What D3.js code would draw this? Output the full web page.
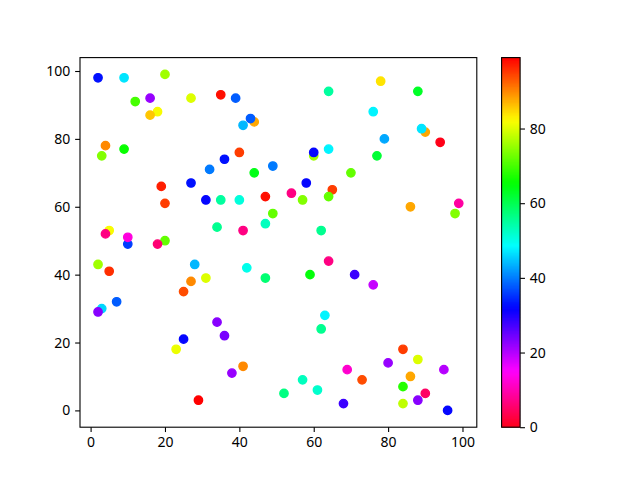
<!DOCTYPE html>
<html><head><meta charset="utf-8">
<script src="https://cdn.jsdelivr.net/npm/d3@7"></script>
<style>
body{margin:0;background:#fff}
svg{display:block}
text{font-family:"Noto Sans",sans-serif;font-size:14px;fill:#000}
</style>
</head><body>
<svg id="c" width="640" height="480"></svg>
<script>
// ---- data ----
const xVals = [2,9,20,12,16,27,18,16,4,3,9,32,27,19,35,39,44,43,41,64,40,36,44,49,60,60,64,58,78,88,76,90,89,94,79,77,70,20,31,5,4,10,10,20,18,2,5,28,31,27,25,65,54,57,64,47,35,40,49,47,34,41,62,64,42,47,59,86,99,98,71,76,3,2,7,25,23,29,34,36,38,41,63,62,57,52,61,84,88,69,73,80,95,86,84,90,68,88,84,96];
const yVals = [98,98,99,91,92,92,88,87,78,75,77,71,67,66,93,92,85,86,84,94,76,74,70,72,75,76,77,67,97,94,88,82,83,79,80,75,70,61,62,53,52,49,51,50,49,43,41,43,39,38,35,65,64,62,63,63,62,62,58,55,54,53,53,44,42,39,40,60,61,58,40,37,30,29,32,21,18,3,26,22,11,13,28,24,9,5,6,18,15,12,9,14,12,10,7,5,2,3,2,0];
const cVals = [33,47,76,70,22,80,82,86,90,74,66,40,33,97,98,38,88,38,44,55,95,33,64,40,76,32,48,32,84,63,48,88,47,0,43,62,72,95,32,82,7,36,13,72,6,76,96,44,80,90,94,95,7,74,72,98,55,51,72,53,56,7,56,7,50,58,65,88,9,74,28,19,46,23,38,32,81,99,23,24,22,90,48,56,53,57,52,95,80,12,94,22,20,88,68,5,28,23,78,32];
const xTicks = [0,20,40,60,80,100];
const yTicks = [0,20,40,60,80,100];
const cTicks = [0,20,40,60,80];

// ---- matplotlib "hsv" colormap segments (reversed use) ----
const hsvR = [[0,1,1],[0.158730,1,1],[0.174603,0.96875,0.96875],[0.333333,0.03125,0.03125],[0.349206,0,0],[0.666667,0,0],[0.682540,0.03125,0.03125],[0.841270,0.96875,0.96875],[0.857143,1,1],[1,1,1]];
const hsvG = [[0,0,0],[0.158730,0.9375,0.9375],[0.174603,1,1],[0.507937,1,1],[0.666667,0.0625,0.0625],[0.682540,0,0],[1,0,0]];
const hsvB = [[0,0,0],[0.333333,0,0],[0.349206,0.0625,0.0625],[0.507937,1,1],[0.841270,1,1],[0.857143,0.9375,0.9375],[1,0.09375,0.09375]];
function seg(a,t){
  for(let i=0;i<a.length-1;i++){
    if(t>=a[i][0] && t<=a[i+1][0]){
      const f=(t-a[i][0])/(a[i+1][0]-a[i][0]||1);
      return a[i][2]+f*(a[i+1][1]-a[i][2]);
    }
  }
  return a[a.length-1][1];
}
function hsv(t){
  t=Math.max(0,Math.min(1,t));
  return d3.rgb(255*seg(hsvR,t),255*seg(hsvG,t),255*seg(hsvB,t)).formatHex();
}
const cMin=d3.min(cVals), cMax=d3.max(cVals);
const cNorm=d3.scaleLinear().domain([cMin,cMax]).range([0,1]).clamp(true);
const colorOf = v => hsv(1-cNorm(v));   // hsv_r

// ---- layout ----
const svg=d3.select("#c");
const L=80, R=476.8, T=57.6, B=427.2;
function padded(vals){const mn=d3.min(vals),mx=d3.max(vals),p=(mx-mn)*0.05;return [mn-p,mx+p];}
const x=d3.scaleLinear().domain(padded(xVals)).range([L,R]);
const y=d3.scaleLinear().domain(padded(yVals)).range([B,T]);
const tickLen=4.86, tickPad=4.86;

// points
const pts=xVals.map((v,i)=>({x:v,y:yVals[i],c:cVals[i]}));
svg.append("g").selectAll("circle").data(pts).join("circle")
  .attr("cx",d=>x(d.x)).attr("cy",d=>y(d.y)).attr("r",4.17)
  .attr("fill",d=>colorOf(d.c)).attr("stroke",d=>colorOf(d.c)).attr("stroke-width",1.39);

// axes
const gx=svg.append("g").attr("transform",`translate(0,${B})`)
  .call(d3.axisBottom(x).tickValues(xTicks).tickFormat(d3.format("d")).tickSize(tickLen).tickPadding(tickPad));
const gy=svg.append("g").attr("transform",`translate(${L},0)`)
  .call(d3.axisLeft(y).tickValues(yTicks).tickFormat(d3.format("d")).tickSize(tickLen).tickPadding(tickPad));
[gx,gy].forEach(g=>{
  g.select(".domain").remove();
  g.selectAll(".tick line").attr("stroke","#000").attr("stroke-width",1.1);
  g.selectAll(".tick text").attr("font-family","Noto Sans, sans-serif").attr("font-size",14).attr("fill","#000");
});
svg.append("rect").attr("x",L).attr("y",T).attr("width",R-L).attr("height",B-T)
  .attr("fill","none").attr("stroke","#000").attr("stroke-width",1.1);

// colorbar
const CL=501.6, CW=18.5;
const cy=d3.scaleLinear().domain([cMin,cMax]).range([B,T]);
const nSteps=256;
const steps=d3.range(nSteps).map(i=>cMin+(cMax-cMin)*i/nSteps);
const stepH=(B-T)/nSteps;
svg.append("g").selectAll("rect").data(steps).join("rect")
  .attr("x",CL).attr("width",CW)
  .attr("y",d=>cy(d)-stepH-0.5).attr("height",stepH+1)
  .attr("fill",d=>colorOf(d+(cMax-cMin)/nSteps/2));
svg.append("rect").attr("x",CL).attr("y",T).attr("width",CW).attr("height",B-T)
  .attr("fill","none").attr("stroke","#000").attr("stroke-width",1.1);
const gc=svg.append("g").attr("transform",`translate(${CL+CW},0)`)
  .call(d3.axisRight(cy).tickValues(cTicks).tickFormat(d3.format("d")).tickSize(tickLen).tickPadding(tickPad));
gc.select(".domain").remove();
gc.selectAll(".tick line").attr("stroke","#000").attr("stroke-width",1.1);
gc.selectAll(".tick text").attr("font-family","Noto Sans, sans-serif").attr("font-size",14).attr("fill","#000");
</script>
</body></html>
